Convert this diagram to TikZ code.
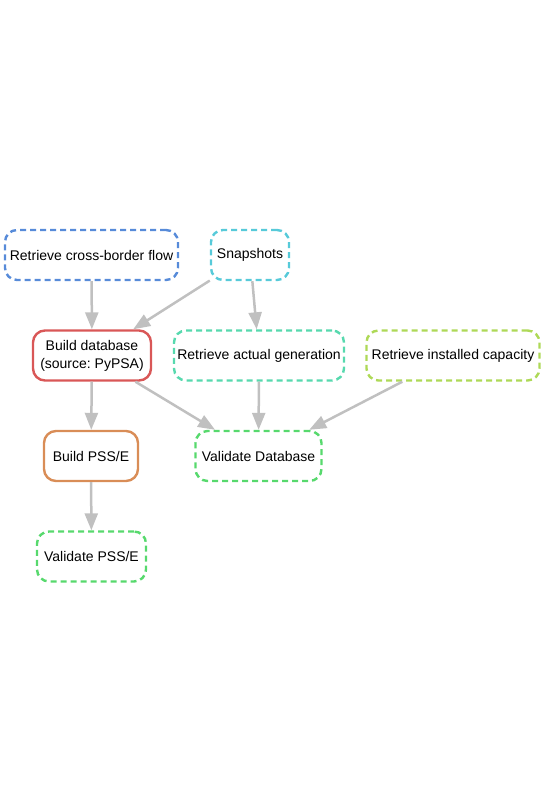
\documentclass[tikz,border=0pt]{standalone}
\usepackage{fontspec}
\setmainfont{Liberation Sans}
\usetikzlibrary{arrows.meta}
\frenchspacing
\definecolor{cred}{HTML}{D95757}
\definecolor{corange}{HTML}{D98D57}
\definecolor{cyg}{HTML}{AED957}
\definecolor{cgreen}{HTML}{57D96D}
\definecolor{cteal}{HTML}{57D9AE}
\definecolor{ccyan}{HTML}{57CAD9}
\definecolor{cblue}{HTML}{578BD9}
\definecolor{cedge}{HTML}{C0C0C0}
\tikzset{
  job/.style={draw, line width=2.4pt, rounded corners=12pt, minimum height=50pt,
    inner sep=0pt, align=center, font=\fontsize{14}{18}\selectfont, text=black},
  dsh/.style={dash pattern=on 6pt off 4pt},
  edge/.style={draw=cedge, line width=2.5pt, -{Triangle[length=17pt,width=13pt]}}
}
\begin{document}
\begin{tikzpicture}[x=1pt,y=-1pt]
\useasboundingbox (0,0) rectangle (544,812);
\node[job, dsh, draw=cblue, minimum width=173pt] (cbf) at (91.5,255) {Retrieve cross-border flow};
\node[job, dsh, draw=ccyan, minimum width=78pt] (snap) at (250,255) {Snapshots};
\node[job, draw=cred, minimum width=118pt] (bdb) at (92,355.5) {Build database\\(source: PyPSA)};
\node[job, dsh, draw=cteal, minimum width=170pt] (rag) at (259,355.5) {Retrieve actual generation};
\node[job, dsh, draw=cyg, minimum width=173pt] (ric) at (453,355.5) {Retrieve installed capacity};
\node[job, draw=corange, minimum width=94pt] (bpss) at (91,456) {Build PSS/E};
\node[job, dsh, draw=cgreen, minimum width=126pt] (vdb) at (258.5,456) {Validate Database};
\node[job, dsh, draw=cgreen, minimum width=109pt] (vpss) at (91.5,556.5) {Validate PSS/E};
\draw[edge] (cbf) -- (bdb);
\draw[edge] (snap) -- (bdb);
\draw[edge] (snap) -- (rag);
\draw[edge] (bdb) -- (bpss);
\draw[edge] (bdb) -- (vdb);
\draw[edge] (rag) -- (vdb);
\draw[edge] (ric) -- (vdb);
\draw[edge] (bpss) -- (vpss);
\end{tikzpicture}
\end{document}
